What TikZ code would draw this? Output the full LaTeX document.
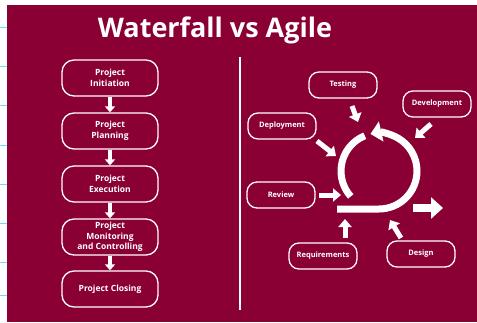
\documentclass[tikz,border=0pt]{standalone}
\usepackage{fontspec}
\setmainfont{Open Sans}
\usetikzlibrary{arrows.meta}
\definecolor{wine}{RGB}{139,0,52}
\definecolor{tick}{RGB}{110,220,240}
\begin{document}
\begin{tikzpicture}[x=1pt,y=1pt,
  stage/.style={draw=white, line width=1.3pt, rounded corners=12pt, minimum width=96pt,
    minimum height=36pt, align=center, text=white, font=\bfseries\fontsize{8.5}{10.5}\selectfont,
    inner sep=1pt},
  phase/.style={draw=white, line width=1.3pt, rounded corners=10pt, minimum width=68pt,
    minimum height=26pt, align=center, text=white, font=\bfseries\fontsize{7.5}{9}\selectfont,
    inner sep=1pt},
  flow/.style={draw=white, line width=4pt, -{Triangle[width=10pt,length=6pt]}},
  feed/.style={draw=white, line width=5pt, -{Triangle[width=13pt,length=8pt]}},
  loop/.style={draw=white, line width=7pt},
]
\useasboundingbox (0,0) rectangle (477,322);
% backdrop
\fill[wine] (7,0) rectangle (477,317);
\foreach \yy in {27,60,99,138,177,216,255,294}
  \draw[tick, line width=1pt] (0,\yy) -- (7,\yy);

% title
\node[text=white, font=\bfseries\fontsize{27}{31}\selectfont] (title) at (215,292) {Waterfall vs Agile};

% divider
\coordinate (divtop) at (240,265);
\coordinate (divbot) at (240,12);
\draw[white, line width=2.5pt] (divtop) -- (divbot);

% waterfall stages
\node[stage] (s1) at (110,244) {Project\\Initiation};
\node[stage] (s2) at (110,191) {Project\\Planning};
\node[stage] (s3) at (110,138) {Project\\Execution};
\node[stage] (s4) at (110,85) {Project\\Monitoring\\and Controlling};
\node[stage] (s5) at (110,33) {Project Closing};
\foreach \a/\b in {s1/s2,s2/s3,s3/s4,s4/s5}
  \draw[flow] (\a.south) -- (\b.north);

% agile cycle
\coordinate (cyc) at (379,151);
\draw[loop] ([shift={(112:38)}]cyc) arc[start angle=112, end angle=222, radius=38];
\draw[loop, line cap=butt, -{Triangle[width=20pt,length=11pt]}]
  (337,113) -- ([shift={(270:38)}]cyc) arc[start angle=270, end angle=463, radius=38];
\coordinate (outA) at (413,114);
\coordinate (outB) at (443,114);
\draw[white, line width=8pt, -{Triangle[width=21pt,length=12pt]}] (outA) -- (outB);

% agile phases
\node[phase] (test) at (343,237) {Testing};
\node[phase] (dev) at (437,218) {Development};
\node[phase] (depl) at (282,196) {Deployment};
\node[phase] (rev) at (281,127) {Review};
\node[phase] (req) at (323,66) {Requirements};
\node[phase] (des) at (421,68) {Design};

% arrows into the cycle
\coordinate (tA) at (352,216); \coordinate (tB) at (358,200);
\coordinate (dA) at (431,198); \coordinate (dB) at (415,184);
\coordinate (pA) at (317,181); \coordinate (pB) at (336,166);
\coordinate (rA) at (319,127); \coordinate (rB) at (341,127);
\coordinate (qA) at (345,84);  \coordinate (qB) at (345,103);
\coordinate (eA) at (401,84);  \coordinate (eB) at (390,102);
\foreach \p/\q in {tA/tB,dA/dB,pA/pB,rA/rB,qA/qB,eA/eB}
  \draw[feed] (\p) -- (\q);
\end{tikzpicture}
\end{document}
